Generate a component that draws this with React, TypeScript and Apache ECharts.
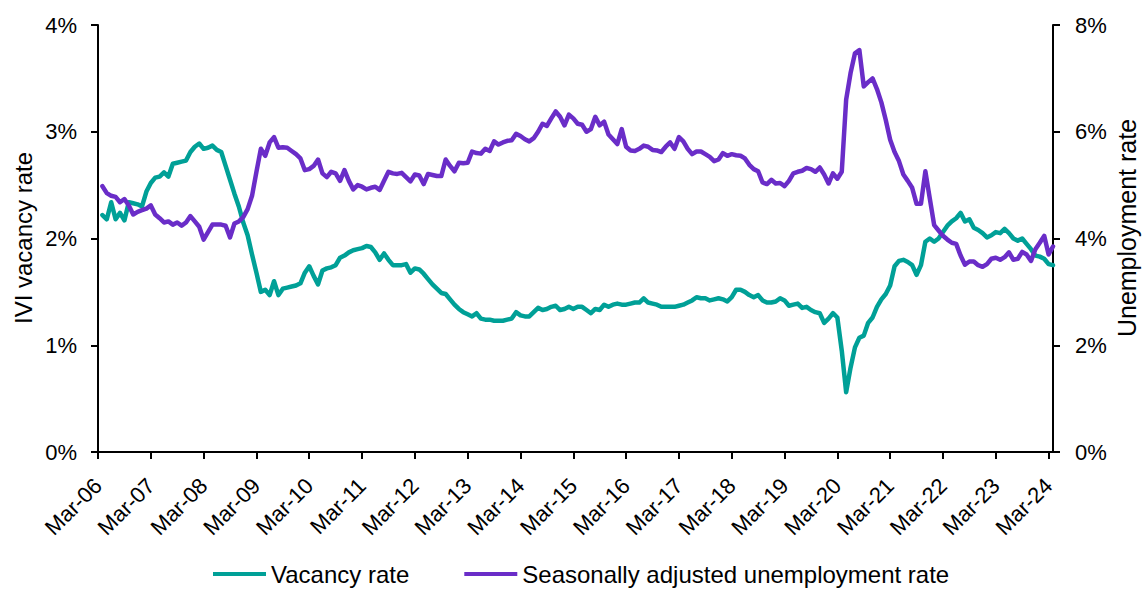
import { useEffect, useRef } from "react";
import * as echarts from "echarts";

const MONTH_NAMES = ["Jan", "Feb", "Mar", "Apr", "May", "Jun", "Jul", "Aug", "Sep", "Oct", "Nov", "Dec"];
const START_YEAR = 2006;
const START_MONTH = 2; // March
const MONTH_COUNT = 218; // Mar-06 .. Apr-24

const categories: string[] = [];
for (let k = 0; k < MONTH_COUNT; k++) {
  const m = (START_MONTH + k) % 12;
  const y = START_YEAR + Math.floor((START_MONTH + k) / 12);
  categories.push(`${MONTH_NAMES[m]}-${String(y % 100).padStart(2, "0")}`);
}

// IVI vacancy rate (%), monthly
const vacancyRate: (number | null)[] = [
  null,
  2.22, 2.18, 2.34, 2.18, 2.24, 2.17, 2.34, 2.33, 2.32, 2.3, 2.44, 2.52,
  2.57, 2.58, 2.62, 2.58, 2.7, 2.71, 2.72, 2.73, 2.81, 2.86, 2.89, 2.84,
  2.85, 2.87, 2.83, 2.81, 2.68, 2.55, 2.42, 2.3, 2.15, 2.03, 1.85, 1.68,
  1.5, 1.52, 1.47, 1.6, 1.47, 1.53, 1.54, 1.55, 1.56, 1.58, 1.68, 1.74,
  1.65, 1.57, 1.7, 1.72, 1.73, 1.75, 1.82, 1.84, 1.87, 1.89, 1.9, 1.91,
  1.93, 1.92, 1.87, 1.8, 1.86, 1.8, 1.75, 1.75, 1.75, 1.76, 1.68, 1.72,
  1.71, 1.67, 1.62, 1.57, 1.53, 1.49, 1.48, 1.43, 1.38, 1.34, 1.31, 1.29,
  1.27, 1.3, 1.25, 1.24, 1.24, 1.23, 1.23, 1.23, 1.24, 1.25, 1.31, 1.28,
  1.27, 1.27, 1.31, 1.35, 1.33, 1.34, 1.36, 1.37, 1.33, 1.34, 1.36, 1.34,
  1.36, 1.36, 1.33, 1.3, 1.34, 1.33, 1.38, 1.36, 1.38, 1.39, 1.38, 1.38,
  1.39, 1.4, 1.4, 1.44, 1.4, 1.39, 1.38, 1.36, 1.36, 1.36, 1.36, 1.37,
  1.38, 1.4, 1.42, 1.45, 1.44, 1.44, 1.42, 1.43, 1.44, 1.43, 1.41, 1.45,
  1.52, 1.52, 1.5, 1.47, 1.45, 1.47, 1.42, 1.4, 1.4, 1.41, 1.44, 1.42,
  1.37, 1.38, 1.39, 1.35, 1.36, 1.33, 1.31, 1.3, 1.21, 1.25, 1.3, 1.26,
  0.95, 0.56, 0.79, 0.98, 1.07, 1.09, 1.21, 1.26, 1.36, 1.43, 1.48, 1.56,
  1.74, 1.79, 1.8, 1.78, 1.75, 1.66, 1.75, 1.97, 2.0, 1.97, 2.0, 2.06,
  2.12, 2.16, 2.19, 2.24, 2.16, 2.18, 2.1, 2.08, 2.05, 2.01, 2.03, 2.06,
  2.05, 2.09, 2.05, 2.0, 1.98, 2.0, 1.95, 1.9, 1.84, 1.83, 1.81, 1.76,
  1.75,
];

// Seasonally adjusted unemployment rate (%), monthly
const unemploymentRate: (number | null)[] = [
  null,
  4.98, 4.85, 4.8, 4.78, 4.68, 4.74, 4.62, 4.45, 4.5, 4.53, 4.56, 4.62,
  4.45, 4.38, 4.3, 4.32, 4.26, 4.3, 4.24, 4.3, 4.42, 4.32, 4.22, 3.98,
  4.12, 4.26, 4.26, 4.26, 4.24, 4.02, 4.28, 4.32, 4.4, 4.55, 4.8, 5.25,
  5.68, 5.55, 5.8, 5.9, 5.7, 5.71, 5.7, 5.64, 5.58, 5.5, 5.28, 5.3,
  5.36, 5.48, 5.22, 5.15, 5.25, 5.22, 5.08, 5.28, 5.08, 4.92, 5.0, 4.97,
  4.92, 4.95, 4.97, 4.91, 5.08, 5.25, 5.22, 5.21, 5.23, 5.15, 5.07, 5.2,
  5.18, 5.02, 5.21, 5.19, 5.17, 5.17, 5.48, 5.36, 5.26, 5.42, 5.41, 5.42,
  5.63, 5.6, 5.59, 5.68, 5.64, 5.82, 5.76, 5.8, 5.83, 5.84, 5.96, 5.92,
  5.86, 5.82, 5.88, 6.0, 6.15, 6.11, 6.25, 6.38, 6.28, 6.12, 6.32, 6.25,
  6.15, 6.13, 6.0, 6.05, 6.28, 6.12, 6.19, 5.95, 5.86, 5.77, 6.05, 5.72,
  5.65, 5.64, 5.68, 5.74, 5.72, 5.66, 5.65, 5.62, 5.72, 5.8, 5.68, 5.9,
  5.82, 5.68, 5.58, 5.63, 5.63, 5.58, 5.53, 5.45, 5.48, 5.6, 5.55, 5.58,
  5.56, 5.55, 5.5, 5.38, 5.3, 5.26, 5.05, 5.02, 5.1, 5.03, 5.04, 4.98,
  5.08, 5.22, 5.25, 5.27, 5.32, 5.3, 5.25, 5.33, 5.2, 5.03, 5.22, 5.12,
  5.25, 6.6, 7.1, 7.47, 7.53, 6.85, 6.93, 7.0, 6.8, 6.55, 6.22, 5.85,
  5.62, 5.45, 5.2, 5.08, 4.95, 4.65, 4.65, 5.26, 4.75, 4.25, 4.15, 4.05,
  3.98, 3.92, 3.9, 3.68, 3.51, 3.57, 3.57, 3.5, 3.47, 3.52, 3.62, 3.64,
  3.6, 3.65, 3.74, 3.6, 3.62, 3.75, 3.7, 3.58, 3.8, 3.92, 4.05, 3.7,
  3.85,
];

const leftTicks = { min: 0, max: 4, interval: 1 };
const rightTicks = { min: 0, max: 8, interval: 2 };

const FONT = "'Liberation Sans', Arial, sans-serif";
const TEAL = "#00A097";
const PURPLE = "#6A2DC8";

export default function App() {
  const ref = useRef<HTMLDivElement>(null);

  useEffect(() => {
    if (!ref.current) return;
    const chart = echarts.init(ref.current, null, { renderer: "svg" });
    const axisLine = { show: true, lineStyle: { color: "#000", width: 2 } };
    const axisTick = { show: true, length: 7, lineStyle: { color: "#000", width: 2 } };
    chart.setOption({
      animation: false,
      backgroundColor: "#fff",
      textStyle: { fontFamily: FONT },
      grid: { left: 98, right: 89, top: 25, bottom: 138, containLabel: false },
      legend: {
        left: 208,
        top: 557,
        icon: "rect",
        itemWidth: 53,
        itemHeight: 4,
        itemGap: 55,
        textStyle: { fontSize: 24, color: "#000", fontFamily: FONT },
        data: ["Vacancy rate", "Seasonally adjusted unemployment rate"],
      },
      xAxis: {
        type: "category",
        data: categories,
        boundaryGap: false,
        axisLine,
        axisTick: { ...axisTick, interval: 11 },
        axisLabel: {
          interval: 11,
          rotate: 45,
          margin: 30,
          fontSize: 22,
          color: "#000",
          fontFamily: FONT,
        },
        splitLine: { show: false },
      },
      yAxis: [
        {
          type: "value",
          position: "left",
          ...leftTicks,
          axisLine,
          axisTick,
          axisLabel: { formatter: "{value}%", fontSize: 22, color: "#000", margin: 21, fontFamily: FONT },
          splitLine: { show: false },
        },
        {
          type: "value",
          position: "right",
          ...rightTicks,
          axisLine,
          axisTick,
          axisLabel: { formatter: "{value}%", fontSize: 22, color: "#000", margin: 22, fontFamily: FONT },
          splitLine: { show: false },
        },
      ],
      graphic: [
        {
          type: "text",
          x: 23,
          y: 238,
          rotation: Math.PI / 2,
          style: {
            text: "IVI vacancy rate",
            fontSize: 24,
            fontFamily: FONT,
            fill: "#000",
            align: "center",
            verticalAlign: "middle",
          },
        },
        {
          type: "text",
          x: 1127,
          y: 228,
          rotation: Math.PI / 2,
          style: {
            text: "Unemployment rate",
            fontSize: 25,
            fontFamily: FONT,
            fill: "#000",
            align: "center",
            verticalAlign: "middle",
          },
        },
      ],
      series: [
        {
          name: "Vacancy rate",
          type: "line",
          yAxisIndex: 0,
          data: vacancyRate,
          color: TEAL,
          showSymbol: false,
          symbol: "none",
          lineStyle: { width: 4.5, color: TEAL, join: "round", cap: "round" },
        },
        {
          name: "Seasonally adjusted unemployment rate",
          type: "line",
          yAxisIndex: 1,
          data: unemploymentRate,
          color: PURPLE,
          showSymbol: false,
          symbol: "none",
          lineStyle: { width: 4.5, color: PURPLE, join: "round", cap: "round" },
        },
      ],
    });
    return () => chart.dispose();
  }, []);

  return (
    <div
      ref={ref}
      style={{ position: "fixed", left: 0, top: 0, width: 1142, height: 590, background: "#fff" }}
    />
  );
}
